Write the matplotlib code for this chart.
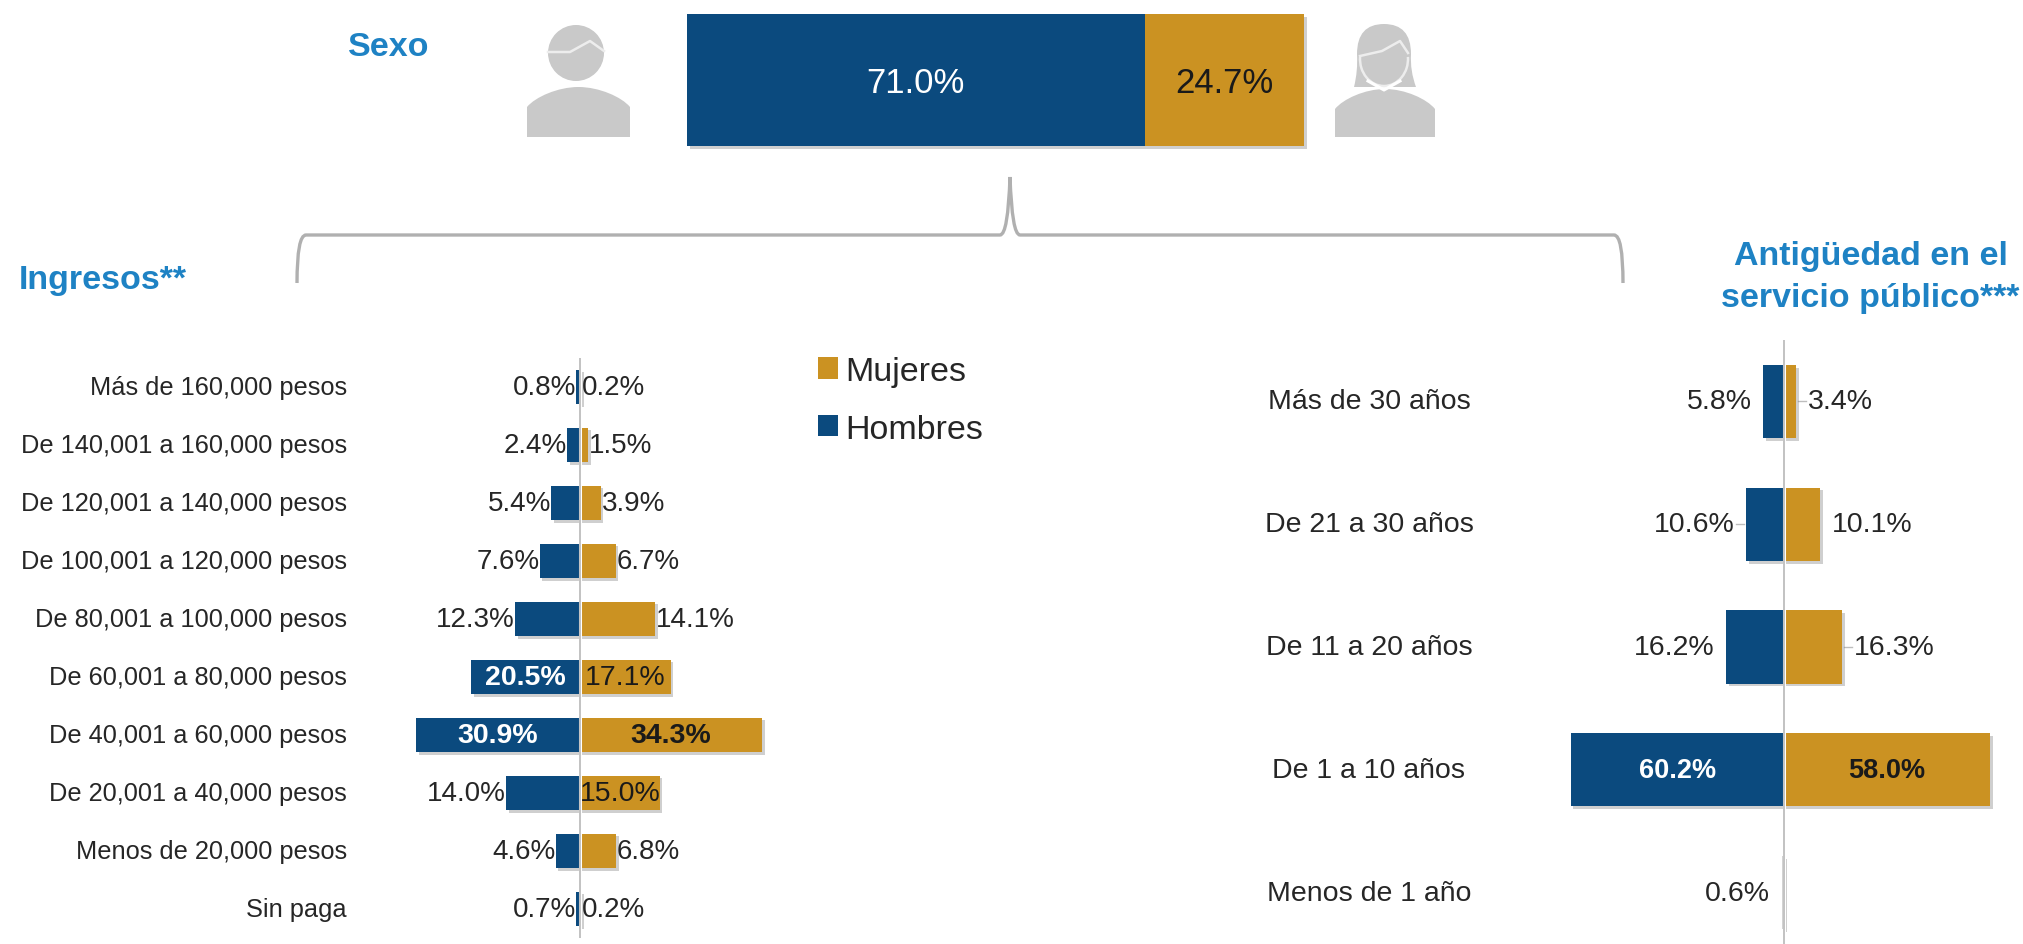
import matplotlib
matplotlib.use("Agg")
import matplotlib.pyplot as plt
from matplotlib.patches import Rectangle, Ellipse, PathPatch, Arc
from matplotlib.path import Path
import matplotlib.patheffects as pe

plt.rcParams['font.family'] = ['Liberation Sans', 'DejaVu Sans']

BLUE = '#0B4A7E'
GOLD = '#CB9222'
GREY = '#C9C9C9'
AXIS = '#B8B8B8'
TITLE = '#1E82C4'
TXT = '#262626'

W, H = 2023, 945

# ---------- data ----------
sexo_labels = ['Hombres', 'Mujeres']
sexo_values = [71.0, 24.7]

ingreso_cats = ['Más de 160,000 pesos', 'De 140,001 a 160,000 pesos', 'De 120,001 a 140,000 pesos',
                'De 100,001 a 120,000 pesos', 'De 80,001 a 100,000 pesos', 'De 60,001 a 80,000 pesos',
                'De 40,001 a 60,000 pesos', 'De 20,001 a 40,000 pesos', 'Menos de 20,000 pesos', 'Sin paga']
ingreso_h = [0.8, 2.4, 5.4, 7.6, 12.3, 20.5, 30.9, 14.0, 4.6, 0.7]
ingreso_m = [0.2, 1.5, 3.9, 6.7, 14.1, 17.1, 34.3, 15.0, 6.8, 0.2]

antig_cats = ['Más de 30 años', 'De 21 a 30 años', 'De 11 a 20 años', 'De 1 a 10 años', 'Menos de 1 año']
antig_h = [5.8, 10.6, 16.2, 60.2, 0.6]
antig_m = [3.4, 10.1, 16.3, 58.0, 0.0]


def axes_px(x0, y0, x1, y1):
    """axes from pixel box, y measured from the top"""
    return fig.add_axes([x0 / W, 1 - y1 / H, (x1 - x0) / W, (y1 - y0) / H])


def shadow():
    return [pe.SimplePatchShadow(offset=(2, -2), shadow_rgbFace='#888888', alpha=0.4), pe.Normal()]


fig = plt.figure(figsize=(W / 100, H / 100), dpi=100, facecolor='white')

# ---------- decoration layer in pixel coordinates ----------
deco = fig.add_axes([0, 0, 1, 1])
deco.set_xlim(0, W)
deco.set_ylim(H, 0)
deco.axis('off')


def body(x0, x1, top, bottom):
    w = x1 - x0
    verts = [(x0, bottom), (x0, top + 20), (x0 + w * .08, top + 10), (x0 + w * .3, top), (x0 + w * .5, top),
             (x0 + w * .7, top), (x0 + w * .92, top + 10), (x1, top + 20), (x1, bottom), (x0, bottom)]
    codes = [Path.MOVETO, Path.LINETO, Path.CURVE4, Path.CURVE4, Path.CURVE4,
             Path.CURVE4, Path.CURVE4, Path.CURVE4, Path.LINETO, Path.CLOSEPOLY]
    deco.add_patch(PathPatch(Path(verts, codes), fc=GREY, ec='none'))


# man
body(527, 630, 88, 138)
deco.add_patch(Ellipse((576, 54), 56, 56, fc=GREY, ec='none'))
deco.plot([548, 570, 590, 604], [53, 53, 42, 52], color='#EDEDED', lw=1.8)

# woman
hair = [(1354, 88), (1358, 72), (1357, 55), (1357, 25), (1384, 25), (1411, 25), (1411, 55), (1410, 72),
        (1416, 88), (1354, 88)]
hair_c = [Path.MOVETO, Path.CURVE3, Path.CURVE3, Path.CURVE3, Path.CURVE3, Path.CURVE3, Path.CURVE3, Path.CURVE3,
          Path.CURVE3, Path.CLOSEPOLY]
deco.add_patch(PathPatch(Path(hair, hair_c), fc=GREY, ec='none'))
body(1335, 1435, 90, 138)
deco.add_patch(Arc((1384, 60), 48, 54, theta1=-5, theta2=185, ec='#EDEDED', lw=1.8))
deco.plot([1360, 1382, 1400, 1408], [57, 52, 42, 54], color='#EDEDED', lw=1.8)
deco.plot([1368, 1384, 1400], [82, 91, 82], color='white', lw=2.2)

# brace
bx = [297, 297, 306, 1000, 1008, 1010, 1012, 1020, 1614, 1623, 1623]
by = [284, 236, 236, 236, 236, 178, 236, 236, 236, 236, 284]
bc = [Path.MOVETO, Path.CURVE3, Path.CURVE3, Path.LINETO, Path.CURVE3, Path.CURVE3, Path.CURVE3, Path.CURVE3,
      Path.LINETO, Path.CURVE3, Path.CURVE3]
deco.add_patch(PathPatch(Path(list(zip(bx, by)), bc), fc='none', ec='#B0B0B0', lw=2.4))

# titles
deco.text(348, 48, 'Sexo', color=TITLE, fontsize=24.5, fontweight='bold', ha='left', va='center')
deco.text(19, 280, 'Ingresos**', color=TITLE, fontsize=24.5, fontweight='bold', ha='left', va='center')
deco.text(1871, 256, 'Antigüedad en el', color=TITLE, fontsize=24.5, fontweight='bold', ha='center', va='center')
deco.text(1870, 298, 'servicio público***', color=TITLE, fontsize=24.5, fontweight='bold', ha='center', va='center')

# ---------- Sexo stacked bar ----------
ax = axes_px(687, 15, 1304, 147)
ax.axis('off')
ax.set_xlim(0, sum(sexo_values))
ax.set_ylim(-0.5, 0.5)
left = 0
for val, col, tc in zip(sexo_values, [BLUE, GOLD], ['white', '#1A1A1A']):
    r = ax.barh(0, val, left=left, height=1, color=col, clip_on=False)
    r[0].set_path_effects(shadow())
    ax.text(left + val / 2, -0.02, f'{val:.1f}%', color=tc, fontsize=25, ha='center', va='center')
    left += val


# ---------- butterfly panels ----------
def butterfly(box, xlim, cats, men, women, bar_h, fs, fs_val, fs_in, lab_x, lab_ha, gap_m, gap_w,
              men_in, wom_in, bold_from, leaders):
    ax = axes_px(*box)
    ax.axis('off')
    ax.set_xlim(*xlim)
    n = len(cats)
    ax.set_ylim(n - 0.5, -0.5)
    ppx = (xlim[1] - xlim[0]) / (box[2] - box[0])
    for i, (c, m, f) in enumerate(zip(cats, men, women)):
        mc = BLUE if m >= 0.7 else '#D2D2D2'
        b1 = ax.barh(i, -m, height=bar_h, color=mc, zorder=2)
        if f > 0:
            b2 = ax.barh(i, f, height=bar_h, color=GOLD, zorder=2)
            b2[0].set_path_effects(shadow())
        b1[0].set_path_effects(shadow())
        ax.annotate(c, xy=(0, i), xycoords=('axes fraction', 'data'), xytext=(lab_x, 0),
                    textcoords='offset pixels', ha=lab_ha, va='center', fontsize=fs, color=TXT,
                    annotation_clip=False)
        if m >= men_in:
            ax.text(-m / 2, i, f'{m:.1f}%', color='white', fontsize=fs_in, ha='center', va='center',
                    fontweight='bold' if m >= bold_from else 'normal', zorder=4)
        else:
            ax.text(-m - gap_m * ppx, i, f'{m:.1f}%', color=TXT, fontsize=fs_val, ha='right', va='center', zorder=4)
        if f > 0:
            if f >= wom_in:
                ax.text(f / 2, i, f'{f:.1f}%', color='#1A1A1A', fontsize=fs_in, ha='center', va='center',
                        fontweight='bold' if f >= bold_from else 'normal', zorder=4)
            else:
                ax.text(f + gap_w * ppx, i, f'{f:.1f}%', color=TXT, fontsize=fs_val, ha='left', va='center', zorder=4)
        for side, v in ((-1, m), (1, f)):
            if (side, i) in leaders:
                ax.plot([side * (v + 2 * ppx), side * (v + (gap_w - 2) * ppx)], [i, i], color='#BDBDBD', lw=1, zorder=1)
    ax.axvline(0, color='white', lw=2.2, zorder=3)
    ax.axvline(0, color=AXIS, lw=1.2, zorder=3.5)
    return ax


# left: 5.3 px per %, zero at x=580, rows 58 px apart starting y=388
butterfly((368, 359, 792, 939), (-40, 40), ingreso_cats, ingreso_h, ingreso_m, 0.60, 18.3, 20, 20.5,
          -21, 'right', 0, 1, 20, 15, 20, {})
# right: 3.55 px per %, zero at x=1784, rows 122.7 px apart starting y=402
butterfly((1571, 341, 1997, 955), (-60, 60), antig_cats, antig_h, antig_m, 0.595, 20.5, 20.5, 19.5,
          -202, 'center', 12, 12, 50, 50, 30, {(1, 0), (-1, 1), (1, 2)})

# legend
hs = [Rectangle((0, 0), 1, 1, fc=GOLD), Rectangle((0, 0), 1, 1, fc=BLUE)]
fig.legend(hs, ['Mujeres', 'Hombres'], loc='upper left', bbox_to_anchor=(818 / W, 1 - 357 / H), frameon=False,
           fontsize=24.5, handlelength=0.6, handleheight=0.6, handletextpad=0.2, labelspacing=0.78,
           labelcolor=TXT, borderpad=0, borderaxespad=0)

fig.savefig('out.png', dpi=100, facecolor='white')
